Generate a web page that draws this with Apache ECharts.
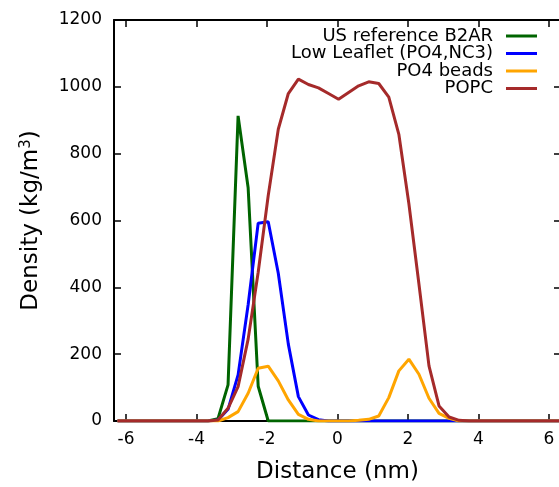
<!DOCTYPE html>
<html>
<head>
<meta charset="utf-8">
<script src="https://cdn.jsdelivr.net/npm/echarts@6/dist/echarts.min.js"></script>
<style>html,body{margin:0;padding:0;background:#fff}#c{width:559px;height:487px}</style>
</head>
<body>
<div id="c"></div>
<script>
// x positions of profile bins (nm), k = -22..22
const distance = [];
for (let k = -22; k <= 22; k++) distance.push(+(0.03 + k * 0.285).toFixed(3));

// values, index = k + 22
const usRef = [0,0,0,0,0,0,0,0,0,0, 7,108,913,698,104, 0,0,0,0,0,0,0,0,0,0,0,0,0,0,0,0,0,0,0,0,0,0,0,0,0,0,0,0,0,0];
const lowLeaflet = [0,0,0,0,0,0,0,0,0,0, 3,35,138,348,592,596,442,230,73,18,4, 0,0,0,0,0,0,0,0,0,0,0,0,0,0,0,0,0,0,0,0,0,0,0,0];
const po4Beads = [0,0,0,0,0,0,0,0,0,0, 0,10,28,83,158,164,120,63,20,5,0, 0,0,0,2,5,15,70,150,185,140,68,23,8,0, 0,0,0,0,0,0,0,0,0,0];
const popc = [0,0,0,0,0,0,0,0,0,0, 3,38,103,245,445,675,873,980,1023,1007,997,980,963,983,1003,1015,1010,969,858,650,410,165,45,12,2, 0,0,0,0,0,0,0,0,0,0];

const names = ['US reference B2AR', 'Low Leaflet (PO4,NC3)', 'PO4 beads', 'POPC'];
const colors = ['#006400', '#0000ff', '#ffa500', '#a52a2a'];
const seriesValues = [usRef, lowLeaflet, po4Beads, popc];
const xTicks = [-6, -4, -2, 0, 2, 4, 6];

const FONT = 'DejaVu Sans';
const chart = echarts.init(document.getElementById('c'), null, {renderer: 'canvas'});

const axisLine = {show: true, onZero: false, lineStyle: {color: '#000', width: 2}};
const tick = {show: true, inside: true, length: 7, lineStyle: {color: '#000', width: 1.5}};

const legendTops = [27, 44.5, 62, 79.5];

chart.setOption({
  animation: false,
  backgroundColor: '#fff',
  grid: {left: 114, right: -2, top: 20, bottom: 66, containLabel: false, outerBoundsMode: 'none'},
  legend: names.map((n, i) => ({
    data: [n], right: 22, top: legendTops[i], orient: 'vertical', align: 'right',
    icon: 'rect', itemWidth: 31, itemHeight: 3, padding: 0, itemGap: 0, selectedMode: false,
    textStyle: {fontFamily: FONT, fontSize: 18, color: '#000', padding: [0, 8, 0, 0]}
  })),
  xAxis: [
    {type: 'value', min: -6.34, max: 6.34, position: 'bottom',
     axisLine, axisTick: Object.assign({customValues: xTicks}, tick),
     axisLabel: {customValues: xTicks, fontFamily: FONT, fontSize: 17, color: '#000', margin: 10,
                 formatter: v => String(v)},
     splitLine: {show: false},
     name: 'Distance (nm)', nameLocation: 'middle', nameGap: 40,
     nameTextStyle: {fontFamily: FONT, fontSize: 23, color: '#000'}},
    {type: 'value', min: -6.34, max: 6.34, position: 'top',
     axisLine, axisTick: Object.assign({customValues: xTicks}, tick),
     axisLabel: {show: false}, splitLine: {show: false}}
  ],
  yAxis: [
    {type: 'value', min: 0, max: 1200, interval: 200, position: 'left',
     axisLine, axisTick: tick,
     axisLabel: {fontFamily: FONT, fontSize: 17, color: '#000', margin: 12, formatter: v => String(v)},
     splitLine: {show: false},
     name: '{a|Density (kg/m}{s|3}{a|)}', nameLocation: 'middle', nameGap: 70, nameRotate: 90,
     nameTextStyle: {fontFamily: FONT, fontSize: 23, color: '#000',
       rich: {a: {fontFamily: FONT, fontSize: 23, color: '#000'},
              s: {fontFamily: FONT, fontSize: 15, color: '#000', verticalAlign: 'top', padding: [0, 0, 10, 0]}}}},
    {type: 'value', min: 0, max: 1200, interval: 200, position: 'right',
     axisLine, axisTick: tick, axisLabel: {show: false}, splitLine: {show: false}}
  ],
  series: names.map((n, i) => ({
    name: n, type: 'line', symbol: 'none', color: colors[i],
    lineStyle: {color: colors[i], width: 3},
    data: distance.map((x, j) => [x, seriesValues[i][j]])
  }))
});
</script>
</body>
</html>
